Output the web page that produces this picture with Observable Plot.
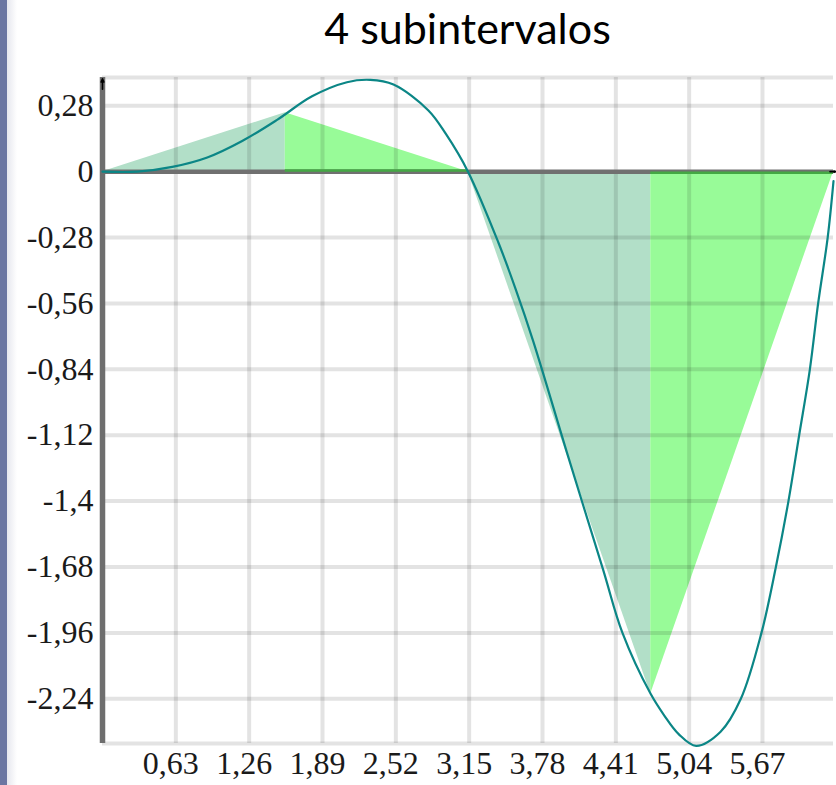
<!DOCTYPE html>
<html>
<head>
<meta charset="utf-8">
<script src="https://cdn.jsdelivr.net/npm/d3@7"></script>
<script src="https://cdn.jsdelivr.net/npm/@observablehq/plot@0.6"></script>
<style>
  html, body { margin: 0; padding: 0; background: #fff; }
  #wrap { position: relative; width: 836px; height: 785px; overflow: hidden; }
  #border { position: absolute; left: 0; top: 0; width: 7px; height: 785px; background: #6b76a2; }
  #shadow { position: absolute; left: 7px; top: 0; width: 10px; height: 785px; background: linear-gradient(to right, #e6e7ee, #ffffff); }
  #title { position: absolute; left: 102px; width: 731px; top: 6px; height: 54px; text-align: center;
           font-family: Lato, "Open Sans", sans-serif; font-size: 43px; line-height: 1; color: #000; }
  #chart { position: absolute; left: 0; top: 60px; }
</style>
</head>
<body>
<div id="wrap">
  <div id="border"></div>
  <div id="shadow"></div>
  <div id="title">4 subintervalos</div>
  <div id="chart"></div>
</div>
<script>
// Curve points
const curveX = [0, 0.3, 0.6, 0.9, 1.2, 1.5, 1.8, 2.1, 2.3, 2.5, 2.8, 2.95, 3.14, 3.4, 3.55, 3.7, 4.0, 4.3, 4.467, 4.71, 4.825, 4.95, 5.1, 5.31, 5.484, 5.661, 5.785, 5.893, 5.985, 6.077, 6.148, 6.23, 6.28];
const curveY = [0, 0.00, 0.02, 0.06, 0.13, 0.22, 0.32, 0.38, 0.39, 0.37, 0.26, 0.16, 0, -0.30, -0.50, -0.72, -1.21, -1.69, -1.96, -2.22, -2.31, -2.39, -2.44, -2.38, -2.24, -1.96, -1.68, -1.40, -1.12, -0.84, -0.56, -0.28, -0.04];

// Trapezoid nodes (4 subintervals)
const nodeX = [0, 1.57, 3.14, 4.71, 6.28];
const nodeY = [0, 0.25, 0, -2.22, 0];

// Ticks
const xTicks = [0.63, 1.26, 1.89, 2.52, 3.15, 3.78, 4.41, 5.04, 5.67];
const yTicks = [0.28, 0, -0.28, -0.56, -0.84, -1.12, -1.4, -1.68, -1.96, -2.24];
const xDomain = [0, 6.28];
const yDomain = [-2.43, 0.40];

const lightFill = "#b2dfc8";
const greenFill = "#98fb98";

const curve = curveX.map((x, i) => ({x, y: curveY[i]}));
const traps = [];
for (let i = 0; i < nodeX.length - 1; i++) {
  traps.push({i, x: nodeX[i], y: nodeY[i]});
  traps.push({i, x: nodeX[i + 1], y: nodeY[i + 1]});
}
const segs = [];
for (let i = 0; i < nodeX.length - 1; i++) {
  segs.push({i, x1: nodeX[i], x2: nodeX[i + 1], top: nodeY[i] + nodeY[i + 1]});
}
const fmt = v => String(v).replace(".", ",");
const gridStyle = {stroke: "black", strokeOpacity: 0.11, strokeWidth: 4};
const labelFont = "'Liberation Serif', 'DejaVu Serif', serif";

const chart = Plot.plot({
  width: 836,
  height: 725,
  marginLeft: 102,
  marginRight: 3,
  marginTop: 17,
  marginBottom: 42,
  x: {domain: xDomain, axis: null},
  y: {domain: yDomain, axis: null},
  style: {background: "transparent", overflow: "visible"},
  marks: [
    Plot.areaY(traps.filter(d => d.i % 2 === 0), {x: "x", y1: 0, y2: "y", z: "i", fill: lightFill}),
    Plot.areaY(traps.filter(d => d.i % 2 === 1), {x: "x", y1: 0, y2: "y", z: "i", fill: greenFill}),
    Plot.ruleX(xTicks, gridStyle),
    Plot.ruleY([...yTicks.filter(v => v !== 0), ...yDomain], gridStyle),
    Plot.ruleY([0], {stroke: "#707070", strokeWidth: 4.5}),
    Plot.ruleY(segs.filter(d => d.i % 2 === 1 && d.top > 0), {y: 0, x1: "x1", x2: "x2", stroke: "#44a844", strokeWidth: 2.5, dy: -1.2}),
    Plot.ruleY(segs.filter(d => d.i % 2 === 1 && d.top < 0), {y: 0, x1: "x1", x2: "x2", stroke: "#44a844", strokeWidth: 2.5, dy: 1.2}),
    Plot.ruleX([xDomain[0]], {stroke: "#6e6e6e", strokeWidth: 5.5}),
    Plot.line(curve, {x: "x", y: "y", stroke: "#0b8686", strokeWidth: 2.2, curve: "catmull-rom"}),
    Plot.arrow([0], {x1: xDomain[1] - 0.03, x2: xDomain[1] + 0.02, y1: 0, y2: 0, stroke: "black", strokeWidth: 1.6, headLength: 26, headAngle: 42}),
    Plot.arrow([0], {x1: 0, x2: 0, y1: yDomain[1] - 0.05, y2: yDomain[1] - 0.005, stroke: "black", strokeWidth: 1.6, headLength: 22, headAngle: 44}),
    Plot.axisY(yTicks, {tickFormat: fmt, tickSize: 0, tickPadding: 9, fontSize: 32, fontFamily: labelFont, fill: "#1a1a1a", label: null}),
    Plot.axisX(xTicks, {tickFormat: fmt, tickSize: 0, tickPadding: 8, fontSize: 32, fontFamily: labelFont, fill: "#1a1a1a", dx: -5, label: null})
  ]
});
document.getElementById("chart").appendChild(chart);
</script>
</body>
</html>
